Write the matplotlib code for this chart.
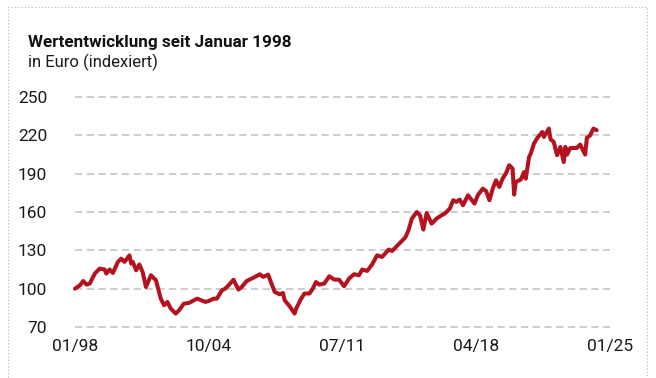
import matplotlib
matplotlib.use("Agg")
import matplotlib.pyplot as plt
from matplotlib.patches import Rectangle
import pandas as pd

# Indexed performance (January 1998 = 100), in EUR
dates = [
    "1998-01", "1998-04", "1998-06", "1998-08", "1998-10", "1999-01", "1999-04", "1999-07",
    "1999-08", "1999-10", "1999-12", "2000-03", "2000-05", "2000-07", "2000-10", "2000-11",
    "2000-12", "2001-02", "2001-04", "2001-06", "2001-08", "2001-11", "2002-01", "2002-02",
    "2002-05", "2002-07", "2002-09", "2002-11", "2003-02", "2003-04", "2003-07", "2003-10",
    "2004-03", "2004-08", "2004-10", "2005-01", "2005-03", "2005-06", "2005-08", "2005-10",
    "2006-01", "2006-04", "2006-06", "2006-09", "2006-12", "2007-02", "2007-05", "2007-07",
    "2007-10", "2007-12", "2008-02", "2008-05", "2008-07", "2008-08", "2008-11", "2009-02",
    "2009-03", "2009-06", "2009-08", "2009-11", "2010-01", "2010-03", "2010-05", "2010-08",
    "2010-11", "2011-02", "2011-05", "2011-08", "2011-11", "2012-02", "2012-05", "2012-07",
    "2012-10", "2013-01", "2013-04", "2013-07", "2013-11", "2014-01", "2014-05", "2014-09",
    "2014-11", "2015-01", "2015-04", "2015-06", "2015-08", "2015-10", "2016-01", "2016-04",
    "2016-07", "2016-09", "2016-12", "2017-02", "2017-04", "2017-06", "2017-08", "2017-11",
    "2018-03", "2018-05", "2018-08", "2018-10", "2018-12", "2019-02", "2019-04", "2019-06",
    "2019-08", "2019-10", "2019-12", "2020-02", "2020-03", "2020-04", "2020-07", "2020-09",
    "2020-10", "2020-12", "2021-01", "2021-03", "2021-05", "2021-08", "2021-09", "2021-12",
    "2022-01", "2022-03", "2022-05", "2022-07", "2022-09", "2022-10", "2022-11", "2023-01",
    "2023-05", "2023-07", "2023-10", "2023-11", "2024-01", "2024-03", "2024-05",
]
values = [
    100.0, 102.6, 106.0, 103.2, 104.0, 111.8, 115.7, 115.0,
    111.8, 115.0, 112.3, 120.9, 123.5, 121.0, 126.0, 119.6,
    121.0, 114.4, 118.9, 113.0, 101.3, 110.5, 107.9, 106.6,
    92.2, 87.0, 89.6, 84.4, 80.5, 83.0, 88.3, 88.8,
    92.2, 89.6, 90.4, 92.2, 92.2, 98.7, 100.0, 102.6,
    107.0, 99.3, 101.3, 106.0, 107.9, 109.2, 111.3, 109.2,
    111.0, 104.0, 97.4, 95.6, 96.6, 90.9, 86.2, 80.5,
    84.4, 92.2, 96.2, 96.2, 100.0, 105.2, 103.2, 104.0,
    109.7, 107.1, 107.0, 101.9, 107.9, 111.3, 110.5, 115.0,
    113.9, 119.1, 126.1, 124.8, 130.6, 129.5, 134.7, 140.0,
    145.7, 154.8, 160.0, 157.4, 146.2, 159.2, 150.9, 154.8,
    157.4, 158.8, 162.7, 169.2, 167.9, 169.7, 165.3, 173.1,
    166.6, 173.1, 178.3, 176.4, 169.2, 178.3, 184.8, 179.6,
    186.1, 190.1, 196.6, 194.0, 173.6, 183.5, 185.4, 191.3,
    186.1, 203.0, 205.7, 213.5, 217.9, 222.6, 218.7, 225.3,
    216.9, 214.8, 204.4, 210.9, 199.1, 210.9, 204.9, 210.1,
    210.1, 212.8, 204.9, 217.9, 220.0, 225.3, 224.0,
]

y_ticks = [70, 100, 130, 160, 190, 220, 250]
x_tick_dates = ["1998-01", "2004-10", "2011-07", "2018-04", "2025-01"]
x_tick_labels = ["01/98", "10/04", "07/11", "04/18", "01/25"]

title = "Wertentwicklung seit Januar 1998"
subtitle = "in Euro (indexiert)"

LINE_COLOR = "#b3121f"
GRID_COLOR = "#c9c9c9"
TEXT_COLOR = "#1a1a1a"
FONT = "Roboto"

plt.rcParams["font.family"] = [FONT, "DejaVu Sans"]

W, H = 656, 378
fig = plt.figure(figsize=(W / 100, H / 100), dpi=100)
fig.patch.set_facecolor("white")

# dotted frame around the card
fig.patches.append(Rectangle((8 / W, -0.1), (647 - 8) / W, 1.1 - 7 / H,
                             transform=fig.transFigure, fill=False,
                             edgecolor="#b5b5b5", linestyle=(0, (1, 2)),
                             linewidth=0.8))

ax_left, ax_right = 75 / W, 610 / W
ax_top, ax_bottom = 1 - 97 / H, 1 - 327 / H
ax = fig.add_axes([ax_left, ax_bottom, ax_right - ax_left, ax_top - ax_bottom])

x = pd.to_datetime(dates)
ax.plot(x, values, color=LINE_COLOR, linewidth=2.9, solid_joinstyle="round",
        solid_capstyle="round", clip_on=False, zorder=3)

ax.set_xlim(pd.Timestamp("1998-01-01"), pd.Timestamp("2025-01-01"))
ax.set_ylim(70, 250)

ax.set_yticks(y_ticks)
ax.set_yticklabels([str(v) for v in y_ticks])
ax.set_xticks(pd.to_datetime(x_tick_dates))
ax.set_xticklabels(x_tick_labels)

for v in y_ticks:
    ax.axhline(v, color=GRID_COLOR, linewidth=1.3, linestyle=(0, (4, 2.5)),
               zorder=1, clip_on=False)

for s in ax.spines.values():
    s.set_visible(False)
ax.tick_params(axis="both", length=0, labelsize=12.5, colors=TEXT_COLOR)
ax.tick_params(axis="y", pad=20)
ax.tick_params(axis="x", pad=9)
for lbl in ax.get_yticklabels():
    lbl.set_horizontalalignment("right")

fig.text(28 / W, 1 - 47 / H, title, fontsize=12.3, fontweight="bold",
         color="#111111", va="baseline", ha="left")
fig.text(28 / W, 1 - 67 / H, subtitle, fontsize=12, color=TEXT_COLOR,
         va="baseline", ha="left")

fig.savefig("out.png", dpi=100, facecolor="white")
